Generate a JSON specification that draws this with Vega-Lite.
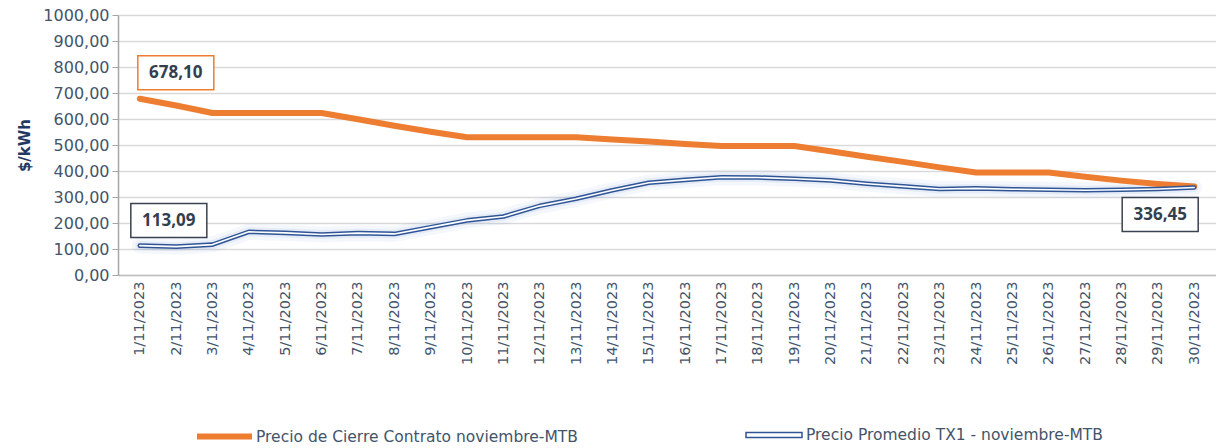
{
  "$schema": "https://vega.github.io/schema/vega-lite/v6.json",
  "autosize": {"type": "none"},
  "width": 1098,
  "height": 260,
  "padding": {"left": 118, "top": 15, "right": 0, "bottom": 173},
  "background": "white",
  "config": {
    "locale": {"number": {"decimal": ",", "thousands": ".", "grouping": [3], "currency": ["$", ""]}},
    "view": {"stroke": null},
    "font": "DejaVu Sans",
    "axisY": {"labelOverlap": false, "labelBound": false}
  },
  "data": {"values": [
    {"date": "1/11/2023", "cierre": 678.10, "tx1": 113.09},
    {"date": "2/11/2023", "cierre": 652, "tx1": 109},
    {"date": "3/11/2023", "cierre": 623, "tx1": 117},
    {"date": "4/11/2023", "cierre": 623, "tx1": 166},
    {"date": "5/11/2023", "cierre": 623, "tx1": 162},
    {"date": "6/11/2023", "cierre": 623, "tx1": 156},
    {"date": "7/11/2023", "cierre": 599, "tx1": 161},
    {"date": "8/11/2023", "cierre": 574, "tx1": 158},
    {"date": "9/11/2023", "cierre": 551, "tx1": 184},
    {"date": "10/11/2023", "cierre": 530, "tx1": 210},
    {"date": "11/11/2023", "cierre": 530, "tx1": 225},
    {"date": "12/11/2023", "cierre": 530, "tx1": 266},
    {"date": "13/11/2023", "cierre": 530, "tx1": 293},
    {"date": "14/11/2023", "cierre": 521, "tx1": 326},
    {"date": "15/11/2023", "cierre": 513, "tx1": 355},
    {"date": "16/11/2023", "cierre": 504, "tx1": 366},
    {"date": "17/11/2023", "cierre": 496, "tx1": 376},
    {"date": "18/11/2023", "cierre": 496, "tx1": 375},
    {"date": "19/11/2023", "cierre": 496, "tx1": 370},
    {"date": "20/11/2023", "cierre": 476, "tx1": 364},
    {"date": "21/11/2023", "cierre": 455, "tx1": 351},
    {"date": "22/11/2023", "cierre": 435, "tx1": 341},
    {"date": "23/11/2023", "cierre": 414, "tx1": 331},
    {"date": "24/11/2023", "cierre": 394, "tx1": 333},
    {"date": "25/11/2023", "cierre": 394, "tx1": 330},
    {"date": "26/11/2023", "cierre": 394, "tx1": 328},
    {"date": "27/11/2023", "cierre": 378, "tx1": 326},
    {"date": "28/11/2023", "cierre": 363, "tx1": 328},
    {"date": "29/11/2023", "cierre": 350, "tx1": 331},
    {"date": "30/11/2023", "cierre": 340, "tx1": 336.45}
  ]},
  "encoding": {
    "x": {
      "field": "date", "type": "ordinal", "sort": null,
      "scale": {"type": "point", "padding": 0.6},
      "axis": {
        "title": null, "labelAngle": -90, "labelFontSize": 14.5, "labelColor": "#44546a",
        "labelPadding": 6, "ticks": false, "domainColor": "#bfbfbf", "domainWidth": 1.5, "grid": false
      }
    },
    "y": {"field": "tx1", "type": "quantitative",
      "scale": {"domain": [0, 1000]},
      "axis": {
        "title": "$/kWh", "titleFontSize": 15, "titleFontWeight": "bold", "titleColor": "#1f3864",
        "titlePadding": 10, "format": ".2f", "labelOverlap": false,
        "values": [0, 100, 200, 300, 400, 500, 600, 700, 800, 900, 1000],
        "labelFontSize": 16, "labelColor": "#44546a", "labelPadding": 3,
        "tickSize": 6, "tickColor": "#a6a6a6", "domainColor": "#a6a6a6", "domainWidth": 1.5,
        "gridColor": "#d9d9d9", "gridWidth": 1.5
      }
    }
  },
  "layer": [
    {
      "mark": {"type": "line", "color": "#4472c4", "strokeWidth": 16, "opacity": 0.06, "strokeJoin": "round", "strokeCap": "round"},
      "encoding": {}
    },
    {
      "mark": {"type": "line", "color": "#4472c4", "strokeWidth": 9, "opacity": 0.08, "strokeJoin": "round", "strokeCap": "round"},
      "encoding": {}
    },
    {
      "mark": {"type": "line", "strokeWidth": 6, "strokeJoin": "round", "strokeCap": "round"},
      "encoding": {
        "y": {"field": "cierre", "type": "quantitative"},
        "color": {
          "datum": "Precio de Cierre Contrato noviembre-MTB",
          "scale": {"range": ["#ed7d31"]},
          "legend": {
            "title": null, "orient": "none", "legendX": 76, "legendY": 391,
            "symbolType": "stroke", "symbolSize": 3025, "symbolStrokeWidth": 6,
            "labelFontSize": 15.5, "labelColor": "#44546a", "labelOffset": 1, "labelLimit": 500
          }
        }
      }
    },
    {
      "mark": {"type": "line", "strokeWidth": 4.6, "strokeJoin": "round", "strokeCap": "round"},
      "encoding": {
        "color": {
          "datum": "Precio Promedio TX1 - noviembre-MTB",
          "scale": {"range": ["#2f5597"]},
          "legend": {
            "title": null, "orient": "none", "legendX": 627, "legendY": 391,
            "symbolType": "M-1,-0.085L1,-0.085L1,0.085L-1,0.085Z", "symbolSize": 3136,
            "symbolStrokeWidth": 1.5, "symbolFillColor": "white",
            "labelFontSize": 15.5, "labelColor": "#44546a", "labelOffset": 3, "labelLimit": 500
          }
        }
      }
    },
    {
      "mark": {"type": "line", "color": "white", "strokeWidth": 1.6, "strokeJoin": "round", "strokeCap": "round"},
      "encoding": {}
    },
    {
      "transform": [{"filter": "datum.date == '1/11/2023'"}],
      "layer": [
        {
          "mark": {"type": "point", "shape": "M-1,-0.447L1,-0.447L1,0.447L-1,0.447Z", "size": 5776,
            "filled": true, "fill": "white", "stroke": "#ed7d31", "strokeWidth": 1.5, "opacity": 1,
            "xOffset": 36, "yOffset": -26},
          "encoding": {"y": {"field": "cierre", "type": "quantitative"}}
        },
        {
          "mark": {"type": "text", "fontSize": 17, "fontWeight": "bold", "font": "Open Sans", "color": "#333f4f",
            "xOffset": 36, "yOffset": -26, "baseline": "middle", "align": "center"},
          "encoding": {"y": {"field": "cierre", "type": "quantitative"}, "text": {"field": "cierre", "format": ".2f"}}
        },
        {
          "mark": {"type": "point", "shape": "M-1,-0.447L1,-0.447L1,0.447L-1,0.447Z", "size": 5776,
            "filled": true, "fill": "white", "stroke": "#3a4150", "strokeWidth": 1.5, "opacity": 1,
            "xOffset": 29, "yOffset": -25},
          "encoding": {}
        },
        {
          "mark": {"type": "text", "fontSize": 17, "fontWeight": "bold", "font": "Open Sans", "color": "#333f4f",
            "xOffset": 29, "yOffset": -25, "baseline": "middle", "align": "center"},
          "encoding": {"text": {"field": "tx1", "format": ".2f"}}
        }
      ]
    },
    {
      "transform": [{"filter": "datum.date == '30/11/2023'"}],
      "layer": [
        {
          "mark": {"type": "point", "shape": "M-1,-0.447L1,-0.447L1,0.447L-1,0.447Z", "size": 5776,
            "filled": true, "fill": "white", "stroke": "#3a4150", "strokeWidth": 1.5, "opacity": 1,
            "xOffset": -34, "yOffset": 27},
          "encoding": {}
        },
        {
          "mark": {"type": "text", "fontSize": 17, "fontWeight": "bold", "font": "Open Sans", "color": "#333f4f",
            "xOffset": -34, "yOffset": 27, "baseline": "middle", "align": "center"},
          "encoding": {"text": {"field": "tx1", "format": ".2f"}}
        }
      ]
    }
  ],
  "resolve": {"scale": {"color": "independent"}}
}
